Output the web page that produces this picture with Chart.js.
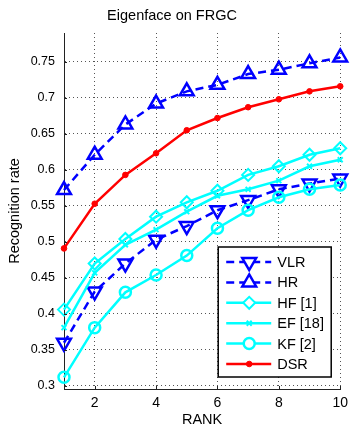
<!DOCTYPE html>
<html>
<head>
<meta charset="utf-8">
<script src="https://cdn.jsdelivr.net/npm/chart.js@4/dist/chart.umd.min.js"></script>
<style>
  html, body { margin: 0; padding: 0; background: #fff; }
  #wrap { width: 354px; height: 427px; }
</style>
</head>
<body>
<div id="wrap"><canvas id="c" width="354" height="427"></canvas></div>
<script>
// ---- data ----
const ranks = [1, 2, 3, 4, 5, 6, 7, 8, 9, 10];
const vlr = [0.360, 0.431, 0.470, 0.503, 0.522, 0.544, 0.558, 0.573, 0.581, 0.588];
const hr  = [0.572, 0.621, 0.663, 0.692, 0.709, 0.718, 0.733, 0.739, 0.748, 0.756];
const hf  = [0.406, 0.470, 0.504, 0.535, 0.555, 0.571, 0.593, 0.605, 0.621, 0.630];
const ef  = [0.381, 0.457, 0.496, 0.517, 0.542, 0.564, 0.573, 0.585, 0.605, 0.614];
const kf  = [0.312, 0.381, 0.430, 0.454, 0.481, 0.519, 0.544, 0.562, 0.573, 0.579];
const dsr = [0.491, 0.553, 0.593, 0.623, 0.655, 0.672, 0.687, 0.698, 0.709, 0.716];
const seriesNames = ['VLR', 'HR', 'HF [1]', 'EF [18]', 'KF [2]', 'DSR'];
const xTicks = [2, 4, 6, 8, 10];
const yTicks = [0.3, 0.35, 0.4, 0.45, 0.5, 0.55, 0.6, 0.65, 0.7, 0.75];
const yTickLabels = ['0.3', '0.35', '0.4', '0.45', '0.5', '0.55', '0.6', '0.65', '0.7', '0.75'];

const BLUE = '#0000ff', CYAN = '#00ffff', RED = '#ff0000';
const FONT = "'Liberation Sans', Arial, sans-serif";

function pts(arr) { return ranks.map((r, i) => ({ x: r, y: arr[i] })); }

const styles = [
  { data: vlr, color: BLUE, dash: [8, 5], pointStyle: 'triangle', rotation: 180, radius: 8, fill: 'rgba(0,0,0,0)', pbw: 2.5 },
  { data: hr,  color: BLUE, dash: [8, 5], pointStyle: 'triangle', rotation: 0,   radius: 8, fill: 'rgba(0,0,0,0)', pbw: 2.5 },
  { data: hf,  color: CYAN, dash: [],     pointStyle: 'rectRot',  rotation: 0,   radius: 6, fill: 'rgba(0,0,0,0)', pbw: 2 },
  { data: ef,  color: CYAN, dash: [],     pointStyle: 'crossRot', rotation: 0,   radius: 3.5, fill: CYAN, pbw: 2 },
  { data: kf,  color: CYAN, dash: [],     pointStyle: 'circle',   rotation: 0,   radius: 5.5, fill: 'rgba(0,0,0,0)', pbw: 2.5 },
  { data: dsr, color: RED,  dash: [],     pointStyle: 'circle',   rotation: 0,   radius: 2.8, fill: RED, pbw: 1 }
];

const datasets = styles.map((s, i) => ({
  label: seriesNames[i],
  data: pts(s.data),
  borderColor: s.color,
  backgroundColor: s.fill,
  borderWidth: 2.5,
  borderDash: s.dash,
  pointStyle: s.pointStyle,
  rotation: s.rotation,
  pointRadius: s.radius,
  pointBorderWidth: s.pbw,
  pointBorderColor: s.color,
  pointBackgroundColor: s.fill,
  tension: 0,
  fill: false,
  clip: false,
  order: styles.length - i
}));

const innerTicks = {
  id: 'innerTicks',
  afterDatasetsDraw(chart) {
    const { ctx, chartArea: a, scales } = chart;
    ctx.save();
    ctx.strokeStyle = '#222';
    ctx.lineWidth = 1;
    ctx.setLineDash([]);
    xTicks.forEach(v => {
      const px = Math.round(scales.x.getPixelForValue(v)) + 0.5;
      ctx.beginPath(); ctx.moveTo(px, a.bottom); ctx.lineTo(px, a.bottom - 3); ctx.stroke();
    });
    yTicks.forEach(v => {
      const py = Math.round(scales.y.getPixelForValue(v)) + 0.5;
      ctx.beginPath(); ctx.moveTo(a.left, py); ctx.lineTo(a.left + 3, py); ctx.stroke();
    });
    ctx.restore();
  }
};

function drawMarker(ctx, s, x, y) {
  ctx.save();
  ctx.setLineDash([]);
  ctx.strokeStyle = s.color;
  ctx.fillStyle = s.fill === 'rgba(0,0,0,0)' ? '#ffffff' : s.fill;
  ctx.lineWidth = s.pbw;
  if (Chart.helpers && Chart.helpers.drawPoint) {
    Chart.helpers.drawPoint(ctx, { pointStyle: s.pointStyle, rotation: s.rotation, radius: s.radius, borderWidth: s.pbw }, x, y);
  }
  ctx.restore();
}

const boxLegend = {
  id: 'boxLegend',
  afterDraw(chart) {
    const { ctx, chartArea: a } = chart;
    const right = a.right - 9, bottom = a.bottom - 12;
    const w = 113, h = 130;
    const left = right - w, top = bottom - h;
    ctx.save();
    ctx.fillStyle = '#fff';
    ctx.fillRect(left, top, w, h);
    ctx.strokeStyle = '#000';
    ctx.lineWidth = 1.5;
    ctx.strokeRect(left, top, w, h);
    const rowH = 20.4;
    styles.forEach((s, i) => {
      const cy = top + 15 + i * rowH;
      ctx.save();
      ctx.strokeStyle = s.color;
      ctx.lineWidth = 2.5;
      ctx.setLineDash(s.dash);
      ctx.beginPath(); ctx.moveTo(left + 8, cy); ctx.lineTo(left + 53, cy); ctx.stroke();
      ctx.restore();
      drawMarker(ctx, s, left + 31, cy);
      ctx.fillStyle = '#000';
      ctx.font = '14.5px ' + FONT;
      ctx.textBaseline = 'middle';
      ctx.textAlign = 'left';
      ctx.fillText(seriesNames[i], left + 59, cy + 1);
    });
    ctx.restore();
  }
};

new Chart(document.getElementById('c'), {
  type: 'line',
  data: { datasets },
  plugins: [innerTicks, boxLegend],
  options: {
    responsive: false,
    animation: false,
    devicePixelRatio: 1,
    layout: { padding: { left: 0, right: 10, top: 0, bottom: 0 } },
    plugins: {
      legend: { display: false },
      tooltip: { enabled: false },
      title: {
        display: true,
        text: 'Eigenface on FRGC',
        color: '#000',
        font: { family: FONT, size: 14.5, weight: 'normal' },
        padding: { top: 6.8, bottom: 8.8 }
      }
    },
    scales: {
      x: {
        type: 'linear',
        min: 1, max: 10,
        afterBuildTicks(scale) { scale.ticks = xTicks.map(v => ({ value: v })); },
        afterFit(scale) { scale.height = 38; },
        grid: { display: true, color: '#555', lineWidth: 1, drawTicks: false },
        border: { display: true, color: '#222', width: 1, dash: [1, 3] },
        ticks: { color: '#000', font: { family: FONT, size: 14 }, padding: 6, maxRotation: 0 },
        title: { display: true, text: 'RANK', color: '#000', font: { family: FONT, size: 14.5 }, padding: { top: 0, bottom: -1.7 } }
      },
      y: {
        type: 'linear',
        min: 0.2958, max: 0.79,
        afterBuildTicks(scale) { scale.ticks = yTicks.map(v => ({ value: v })); },
        afterFit(scale) { scale.width = 64; },
        grid: { display: true, color: '#555', lineWidth: 1, drawTicks: false },
        border: { display: true, color: '#222', width: 1, dash: [1, 3] },
        ticks: {
          color: '#000', font: { family: FONT, size: 12.5 }, padding: 9,
          callback(v) { const i = yTicks.findIndex(t => Math.abs(t - v) < 1e-6); return i >= 0 ? yTickLabels[i] : ''; }
        },
        title: { display: true, text: 'Recognition rate', color: '#000', font: { family: FONT, size: 14.5 }, padding: { top: 6.3, bottom: 0 } }
      }
    }
  }
});
</script>
</body>
</html>
